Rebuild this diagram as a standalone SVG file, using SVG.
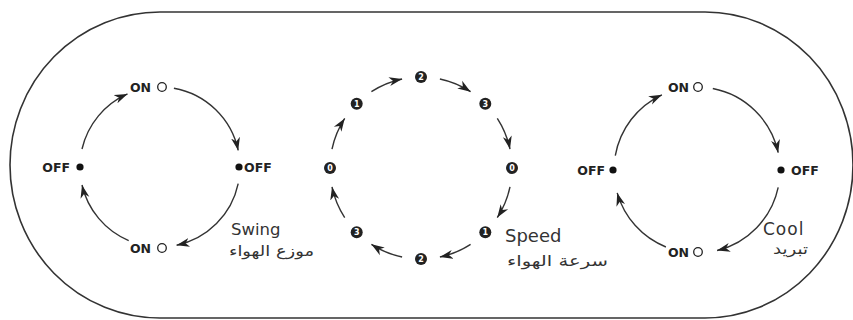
<svg xmlns="http://www.w3.org/2000/svg" width="853" height="320" viewBox="0 0 853 320">
<style>
.frame{fill:none;stroke:#333;stroke-width:1.6}
.arc{fill:none;stroke:#333;stroke-width:1.4;marker-end:url(#ah)}
.lbl{font-family:"DejaVu Sans",sans-serif;font-weight:bold;font-size:12.5px;fill:#222}
.ttl{font-family:"DejaVu Sans",sans-serif;fill:#333}
.ar{font-family:"DejaVu Sans",sans-serif;fill:#333;font-size:14.5px}
.on{fill:#fff;stroke:#222;stroke-width:1.3}
.off{fill:#111}
.num{fill:#222}
.dg{font-family:"DejaVu Sans",sans-serif;font-weight:bold;font-size:8px;fill:#fff}
</style>
<defs>
<marker id="ah" markerUnits="userSpaceOnUse" markerWidth="15" markerHeight="10" viewBox="0 0 15 10" refX="13" refY="5" orient="auto">
<path d="M0,0.5 L13,5 L0,9.5 L3.8,5 Z" fill="#222"/>
</marker>
</defs>
<rect width="853" height="320" fill="#fff"/>
<path class="frame" d="M160,12 H705 A148,153 0 0 1 705,318 H160 A150,153 0 0 1 160,12 Z"/>

<g id="connectors">
<path class="arc" d="M173.9,88.2 A80,80 0 0 1 238.2,150.4"/>
<path class="arc" d="M238.2,183.6 A80,80 0 0 1 176.6,245.2"/>
<path class="arc" d="M128.7,240.6 A80,80 0 0 1 82,185"/>
<path class="arc" d="M82,149 A80,80 0 0 1 127.5,93.9"/>

<path class="arc" d="M371.4,91.7 A91,91 0 0 1 402.1,79"/>
<path class="arc" d="M439.9,79 A91,91 0 0 1 470.6,91.7"/>
<path class="arc" d="M497.3,118.4 A91,91 0 0 1 510,149.1"/>
<path class="arc" d="M510,186.9 A91,91 0 0 1 497.3,217.6"/>
<path class="arc" d="M470.6,244.3 A91,91 0 0 1 439.9,257"/>
<path class="arc" d="M402.1,257 A91,91 0 0 1 371.4,244.3"/>
<path class="arc" d="M344.7,217.6 A91,91 0 0 1 332,186.9"/>
<path class="arc" d="M332,149.1 A91,91 0 0 1 344.7,118.4"/>

<path class="arc" d="M712.8,88.5 A83,83 0 0 1 778.2,152.7"/>
<path class="arc" d="M778.2,187.3 A83,83 0 0 1 717.1,250.5"/>
<path class="arc" d="M665.9,247 A83,83 0 0 1 617.2,192.9"/>
<path class="arc" d="M615.3,155.6 A83,83 0 0 1 661.9,94.8"/>
</g>

<g id="swing">
<g id="swing-on-top"><text class="lbl" x="151" y="91.5" text-anchor="end">ON</text><circle class="on" cx="162" cy="87" r="4.3"/></g>
<g id="swing-off-right"><circle class="off" cx="239" cy="167" r="3.6"/><text class="lbl" x="244" y="171.5">OFF</text></g>
<g id="swing-on-bottom"><text class="lbl" x="151" y="252.5" text-anchor="end">ON</text><circle class="on" cx="162" cy="248" r="4.3"/></g>
<g id="swing-off-left"><circle class="off" cx="80" cy="167" r="3.6"/><text class="lbl" x="70" y="171.5" text-anchor="end">OFF</text></g>
<g id="swing-label"><text class="ttl" x="231" y="235" font-size="16.5">Swing</text><text class="ar" x="229" y="256" textLength="85" lengthAdjust="spacingAndGlyphs">موزع الهواء</text></g>
</g>

<g id="speed">
<g id="sp-top-2"><circle class="num" cx="421" cy="77" r="6"/><text class="dg" x="421" y="80" text-anchor="middle">2</text></g>
<g id="sp-tr-3"><circle class="num" cx="485.3" cy="103.7" r="6"/><text class="dg" x="485.3" y="106.7" text-anchor="middle">3</text></g>
<g id="sp-r-0"><circle class="num" cx="512" cy="168" r="6"/><text class="dg" x="512" y="171" text-anchor="middle">0</text></g>
<g id="sp-br-1"><circle class="num" cx="485.3" cy="232.3" r="6"/><text class="dg" x="485.3" y="235.3" text-anchor="middle">1</text></g>
<g id="sp-b-2"><circle class="num" cx="421" cy="259" r="6"/><text class="dg" x="421" y="262" text-anchor="middle">2</text></g>
<g id="sp-bl-3"><circle class="num" cx="356.7" cy="232.3" r="6"/><text class="dg" x="356.7" y="235.3" text-anchor="middle">3</text></g>
<g id="sp-l-0"><circle class="num" cx="330" cy="168" r="6"/><text class="dg" x="330" y="171" text-anchor="middle">0</text></g>
<g id="sp-tl-1"><circle class="num" cx="356.7" cy="103.7" r="6"/><text class="dg" x="356.7" y="106.7" text-anchor="middle">1</text></g>
<g id="speed-label"><text class="ttl" x="505" y="242" font-size="18">Speed</text><text class="ar" x="507" y="266" font-size="16" textLength="101" lengthAdjust="spacingAndGlyphs">سرعة الهواء</text></g>
</g>

<g id="cool">
<g id="cool-on-top"><text class="lbl" x="689" y="91.5" text-anchor="end">ON</text><circle class="on" cx="698" cy="87" r="4.3"/></g>
<g id="cool-off-right"><circle class="off" cx="781" cy="170" r="3.6"/><text class="lbl" x="791" y="174.5">OFF</text></g>
<g id="cool-on-bottom"><text class="lbl" x="689" y="256.5" text-anchor="end">ON</text><circle class="on" cx="698" cy="252" r="4.3"/></g>
<g id="cool-off-left"><circle class="off" cx="613" cy="170" r="3.6"/><text class="lbl" x="605" y="174.5" text-anchor="end">OFF</text></g>
<g id="cool-label"><text class="ttl" x="763" y="235" font-size="17" letter-spacing="1">Cool</text><text class="ar" x="773" y="254" textLength="35" lengthAdjust="spacingAndGlyphs">تبريد</text></g>
</g>
</svg>
